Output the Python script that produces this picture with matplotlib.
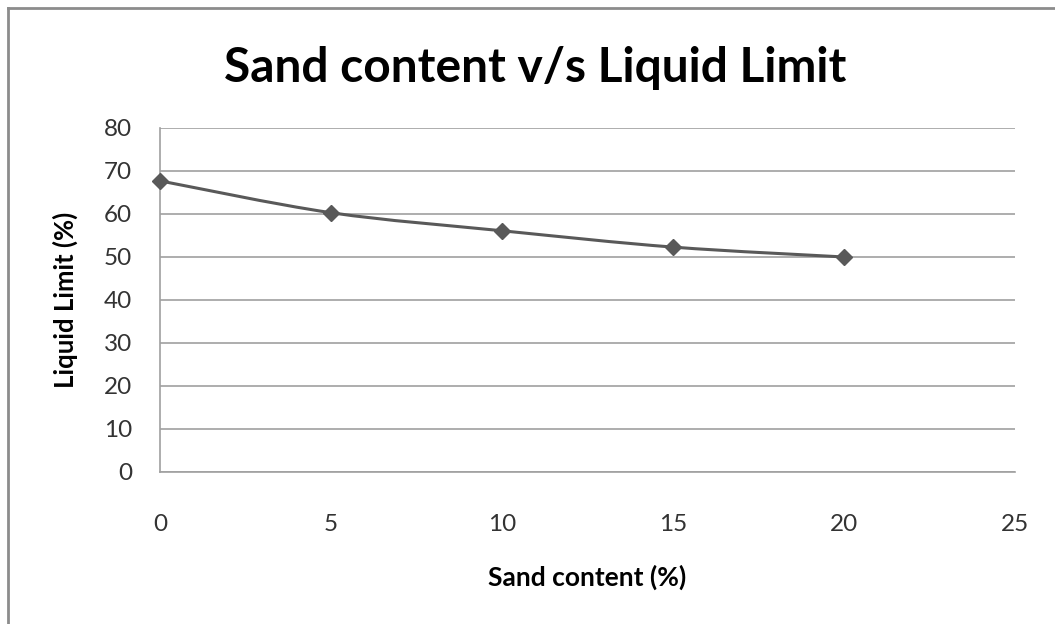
import numpy as np
import matplotlib
matplotlib.use("Agg")
import matplotlib.pyplot as plt
from matplotlib.path import Path
from matplotlib.patches import PathPatch
from matplotlib.lines import Line2D

sand = [0, 5, 10, 15, 20]
liquid_limit = [67.7, 60.3, 56.1, 52.3, 50.0]
xticks = [0, 5, 10, 15, 20, 25]
yticks = [0, 10, 20, 30, 40, 50, 60, 70, 80]

plt.rcParams['font.family'] = ['Lato', 'DejaVu Sans']

fig = plt.figure(figsize=(10.55, 6.24), dpi=100)
ax = fig.add_axes([0.1517, 0.2436, 0.8104, 0.5513])

# smoothed line like Excel (cardinal spline drawn as bezier segments)
x = np.array(sand, dtype=float)
y = np.array(liquid_limit, dtype=float)
verts = [(x[0], y[0])]
codes = [Path.MOVETO]
n = len(x)
for i in range(n - 1):
    x0, y0 = (x[i - 1], y[i - 1]) if i > 0 else (x[i], y[i])
    x3, y3 = (x[i + 2], y[i + 2]) if i + 2 < n else (x[i + 1], y[i + 1])
    c1 = (x[i] + (x[i + 1] - x0) / 6, y[i] + (y[i + 1] - y0) / 6)
    c2 = (x[i + 1] - (x3 - x[i]) / 6, y[i + 1] - (y3 - y[i]) / 6)
    verts += [c1, c2, (x[i + 1], y[i + 1])]
    codes += [Path.CURVE4] * 3
ax.add_patch(PathPatch(Path(verts, codes), facecolor='none', edgecolor='#595959', lw=2.2, zorder=3))
ax.plot(sand, liquid_limit, linestyle='none', marker='D', ms=8, color='#595959', zorder=4, clip_on=False)

ax.set_xlim(0, 25)
ax.set_ylim(0, 80)
ax.set_xticks(xticks)
ax.set_yticks(yticks)
ax.tick_params(length=0, labelsize=17.5, colors='#333333')
ax.tick_params(axis='y', pad=20)
ax.tick_params(axis='x', pad=30)
ax.grid(axis='y', color='#a0a0a0', lw=1.2)
ax.set_axisbelow(True)
for s in ['top', 'right']:
    ax.spines[s].set_visible(False)
for s in ['left', 'bottom']:
    ax.spines[s].set_color('#a0a0a0')
    ax.spines[s].set_linewidth(1.2)

ax.set_xlabel('Sand content (%)', fontsize=19, fontweight='bold')
ax.set_ylabel('Liquid Limit (%)', fontsize=18.5, fontweight='bold')
ax.xaxis.set_label_coords(0.5, -0.305)
ax.yaxis.set_label_coords(-0.111, 0.5)
ax.xaxis.label.set_va('center')
ax.yaxis.label.set_va('center')
fig.text(0.507, 0.891, 'Sand content v/s Liquid Limit', fontsize=34.5, fontweight='bold',
         ha='center', va='center')

# outer chart frame
fig.add_artist(Line2D([0.0076, 0.0076], [0, 0.987], transform=fig.transFigure, color='#8c8c8c', lw=2))
fig.add_artist(Line2D([0.0076, 1.0], [0.987, 0.987], transform=fig.transFigure, color='#8c8c8c', lw=2))

fig.savefig('out.png', dpi=100)
